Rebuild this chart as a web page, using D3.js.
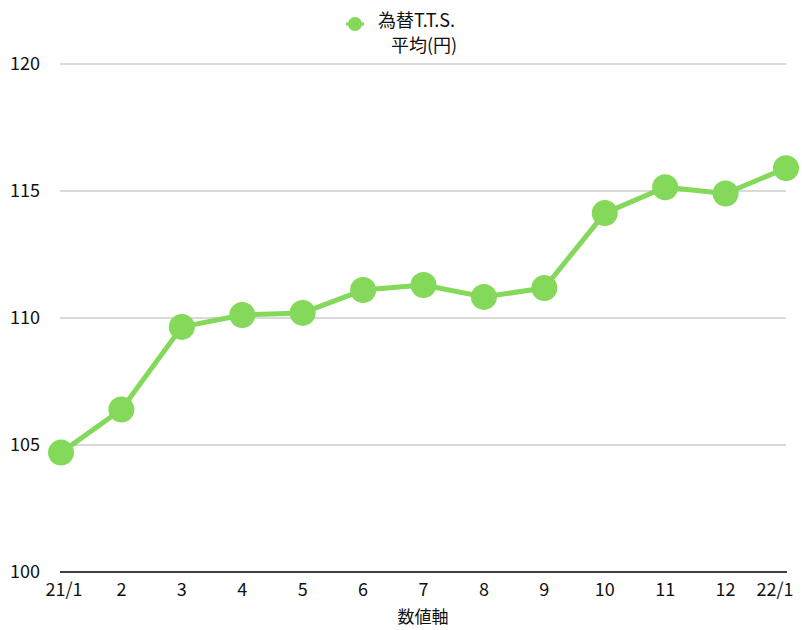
<!DOCTYPE html>
<html><head><meta charset="utf-8">
<script src="https://cdn.jsdelivr.net/npm/d3@7"></script>
<style>body{margin:0;background:#fff}svg{display:block;font-family:"Noto Sans CJK JP","Noto Sans",sans-serif}</style>
</head><body>
<svg id="c" width="802" height="630"></svg>
<script>
const categories = ["21/1","2","3","4","5","6","7","8","9","10","11","12","22/1"];
const values = [104.7,106.4,109.65,110.12,110.2,111.1,111.3,110.83,111.18,114.13,115.15,114.9,115.9];
const yTicks = [100,105,110,115,120];
const seriesName = ["為替T.T.S.","平均(円)"];
const axisTitle = "数値軸";

const svg = d3.select("#c");
const color = "#84d85a";
const x = d3.scalePoint().domain(categories).range([61,786]);
const y = d3.scaleLinear().domain([100,120]).range([572,64]);

// gridlines
svg.append("g").selectAll("line").data(yTicks.filter(t=>t>100)).join("line")
  .attr("x1",60).attr("x2",786).attr("y1",d=>y(d)).attr("y2",d=>y(d))
  .attr("stroke","#b3b3b3").attr("stroke-width",1);
// y labels
svg.append("g").selectAll("text").data(yTicks).join("text")
  .attr("x",40).attr("y",d=>y(d)).attr("dy","0.35em").attr("text-anchor","end")
  .attr("font-size",18).attr("fill","#111").text(d=>d);
// x axis line
svg.append("line").attr("x1",60).attr("x2",787).attr("y1",y(100)).attr("y2",y(100))
  .attr("stroke","#000").attr("stroke-width",1.5);
// x labels
svg.append("g").selectAll("text").data(categories).join("text")
  .attr("x",(d,i)=> i===0 ? x(d)+3 : (i===categories.length-1 ? x(d)-11 : x(d)))
  .attr("y",596).attr("text-anchor","middle")
  .attr("font-size",18).attr("fill","#111").text(d=>d);
svg.append("text").attr("x",423).attr("y",623).attr("text-anchor","middle")
  .attr("font-size",17).attr("fill","#111").text(axisTitle);

// line
const data = categories.map((c,i)=>({c,v:values[i]}));
svg.append("path").datum(data)
  .attr("d",d3.line().x(d=>x(d.c)).y(d=>y(d.v)))
  .attr("fill","none").attr("stroke",color).attr("stroke-width",5).attr("stroke-linejoin","round");
svg.append("g").selectAll("circle").data(data).join("circle")
  .attr("cx",d=>x(d.c)).attr("cy",d=>y(d.v)).attr("r",13).attr("fill",color);

// legend
const lg = svg.append("g");
lg.append("line").attr("x1",346).attr("x2",364).attr("y1",24).attr("y2",24).attr("stroke",color).attr("stroke-width",3);
lg.append("circle").attr("cx",355).attr("cy",24).attr("r",7).attr("fill",color);
lg.append("text").attr("x",378).attr("y",27).attr("font-size",18).attr("fill","#111").text(seriesName[0]);
lg.append("text").attr("x",424).attr("y",52).attr("text-anchor","middle").attr("font-size",18).attr("fill","#111").text(seriesName[1]);
</script>
</body></html>
